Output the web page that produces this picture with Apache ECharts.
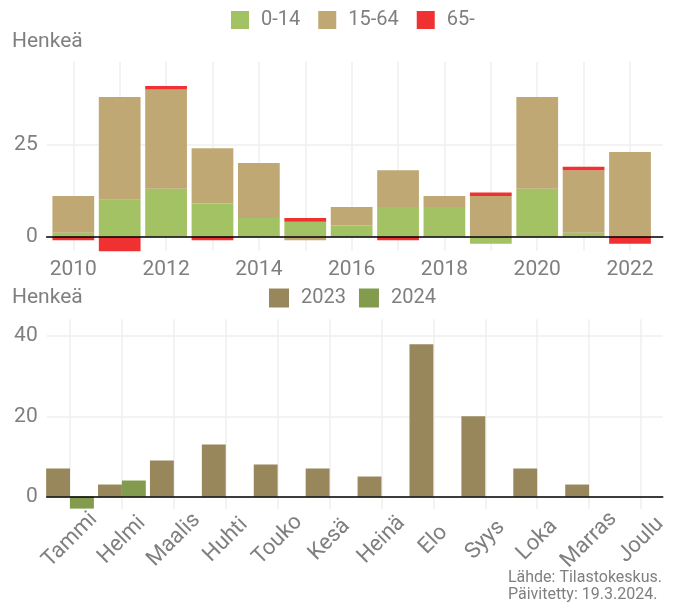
<!DOCTYPE html>
<html><head><meta charset="utf-8">
<script src="https://cdn.jsdelivr.net/npm/echarts@6/dist/echarts.min.js"></script>
<style>html,body{margin:0;padding:0;background:#fff}#c{width:679px;height:605px}</style>
</head><body><div id="c"></div>
<script>
// ---- data ----
const years = [2010, 2011, 2012, 2013, 2014, 2015, 2016, 2017, 2018, 2019, 2020, 2021, 2022];
const age0_14  = [1, 10, 13, 9, 5, 4, 3, 8, 8, -2, 13, 1, 0];
const age15_64 = [10, 28, 27, 15, 15, -1, 5, 10, 3, 11, 25, 17, 23];
const age65    = [-1, -4, 1, -1, 0, 1, 0, -1, 0, 1, 0, 1, -2];
const ageNames = ['0-14', '15-64', '65-'];

const months = ['Tammi', 'Helmi', 'Maalis', 'Huhti', 'Touko', 'Kesä', 'Heinä', 'Elo', 'Syys', 'Loka', 'Marras', 'Joulu'];
const v2023 = [7, 3, 9, 13, 8, 7, 5, 38, 20, 7, 3, 0];
const v2024 = [-3, 4, null, null, null, null, null, null, null, null, null, null];
const monthSeriesNames = ['2023', '2024'];

const yUnit = 'Henkeä';
const sourceLines = ['Lähde: Tilastokeskus.', 'Päivitetty: 19.3.2024.'];

// ---- style ----
const FONT = 'Roboto';
const TXT = '#7f7f7f';
const GRID = '#efefef';
const colAge = ['#a3c263', '#bfa873', '#ef3131'];
const colMonth = ['#99875c', '#829b4d'];

// panel geometry (px)
const PANEL_L = 46.7, PANEL_R = 16.3;
const TOP1 = 62, BOT1 = 251, ZERO1 = 236.5;
const TOP2 = 319.3, BOT2 = 509, ZERO2 = 496.7;

const chart = echarts.init(document.getElementById('c'), null, {renderer: 'canvas'});

const topSeries = [age0_14, age15_64, age65].map((arr, i) => ({
  name: ageNames[i], type: 'bar', xAxisIndex: 0, yAxisIndex: 0,
  stack: 'age', barWidth: '90%', clip: false,
  itemStyle: {color: colAge[i]}, emphasis: {disabled: true},
  data: arr
}));

const bottomSeries = [v2023, v2024].map((arr, i) => ({
  name: monthSeriesNames[i], type: 'bar', xAxisIndex: 2, yAxisIndex: 2,
  barWidth: '46%', barGap: '0%', clip: false,
  itemStyle: {color: colMonth[i]}, emphasis: {disabled: true},
  data: arr
}));

const lbl = {color: TXT, fontFamily: FONT, fontSize: 21};
const hiddenAxis = {show: false};
const zeroAxisLine = {show: true, onZero: false, lineStyle: {color: '#000', width: 1.6}};

chart.setOption({
  animation: false,
  backgroundColor: '#fff',
  title: [
    {text: yUnit, left: 7, top: 26, textStyle: {color: TXT, fontFamily: FONT, fontSize: 21, fontWeight: 'normal'}},
    {text: yUnit, left: 7, top: 282, textStyle: {color: TXT, fontFamily: FONT, fontSize: 21, fontWeight: 'normal'}}
  ],
  legend: [
    {
      data: ageNames, left: 226, top: 5, icon: 'rect', itemWidth: 18, itemHeight: 18, itemGap: 18,
      textStyle: {color: TXT, fontFamily: FONT, fontSize: 20, lineHeight: 20, padding: [0, 0, 0, 7]},
      selectedMode: false
    },
    {
      data: monthSeriesNames, left: 264, top: 283, icon: 'rect', itemWidth: 20, itemHeight: 19, itemGap: 13,
      textStyle: {color: TXT, fontFamily: FONT, fontSize: 20, lineHeight: 20, padding: [0, 0, 0, 7]},
      selectedMode: false
    }
  ],
  grid: [
    // 0: top bars + vertical grid lines (2010..2022 points)
    {left: 73.3, right: 679 - 630, top: TOP1, height: BOT1 - TOP1},
    // 1: top horizontal grid lines, y labels, zero line
    {left: PANEL_L, right: PANEL_R, top: TOP1, height: ZERO1 - TOP1},
    // 2: bottom bars + vertical grid lines (Tammi..Joulu points)
    {left: 70, right: 679 - 641, top: TOP2, height: BOT2 - TOP2},
    // 3: bottom horizontal grid lines, y labels, zero line
    {left: PANEL_L, right: PANEL_R, top: TOP2, height: ZERO2 - TOP2}
  ],
  xAxis: [
    {
      type: 'category', gridIndex: 0, data: years.map(String), boundaryGap: false,
      axisLine: {show: false, onZero: false}, axisTick: {show: false},
      splitLine: {show: true, interval: 0, lineStyle: {color: GRID, width: 1.5}},
      axisLabel: Object.assign({}, lbl, {interval: 1, margin: 8})
    },
    {
      type: 'value', gridIndex: 1, min: 0, max: 1, z: 10,
      axisLine: zeroAxisLine, axisTick: {show: false}, axisLabel: {show: false}, splitLine: {show: false}
    },
    {
      type: 'category', gridIndex: 2, data: months, boundaryGap: false,
      axisLine: {show: false, onZero: false}, axisTick: {show: false},
      splitLine: {show: true, interval: 0, lineStyle: {color: GRID, width: 1.5}},
      axisLabel: Object.assign({}, lbl, {fontSize: 22, interval: 0, rotate: 45, align: 'center', verticalAlign: 'middle', margin: 31})
    },
    {
      type: 'value', gridIndex: 3, min: 0, max: 1, z: 10,
      axisLine: zeroAxisLine, axisTick: {show: false}, axisLabel: {show: false}, splitLine: {show: false}
    }
  ],
  yAxis: [
    Object.assign({type: 'value', gridIndex: 0, min: -3.95, max: 47.5}, hiddenAxis),
    {
      type: 'value', gridIndex: 1, min: 0, max: 47.5, interval: 25,
      axisLine: {show: false}, axisTick: {show: false},
      splitLine: {show: true, showMaxLine: false, lineStyle: {color: GRID, width: 1.5}},
      axisLabel: Object.assign({}, lbl, {margin: 9, showMaxLabel: false})
    },
    Object.assign({type: 'value', gridIndex: 2, min: -3.1, max: 44.2}, hiddenAxis),
    {
      type: 'value', gridIndex: 3, min: 0, max: 44.2, interval: 20,
      axisLine: {show: false}, axisTick: {show: false},
      splitLine: {show: true, showMaxLine: false, lineStyle: {color: GRID, width: 1.5}},
      axisLabel: Object.assign({}, lbl, {margin: 9, showMaxLabel: false})
    }
  ],
  graphic: [
    {
      type: 'text', right: 17, top: 569,
      style: {text: sourceLines.join('\n'), fill: TXT, font: '16px Roboto', align: 'right', lineHeight: 17}
    }
  ],
  series: topSeries.concat(bottomSeries)
});
</script>
</body></html>
